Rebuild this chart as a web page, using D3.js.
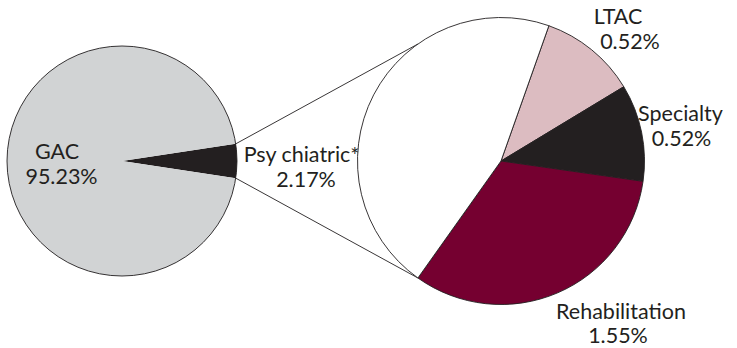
<!DOCTYPE html>
<html>
<head>
<meta charset="utf-8">
<script src="https://cdn.jsdelivr.net/npm/d3@7/dist/d3.min.js"></script>
<style>
  html, body { margin: 0; padding: 0; background: #ffffff; }
  svg { display: block; }
  text { font-family: Lato, "Open Sans", sans-serif; fill: #231f20; }
</style>
</head>
<body>
<svg id="chart" width="737" height="348"></svg>
<script>
// Share of hospital discharges by facility type (percent)
const mainCategories = ["GAC"];
const mainValues = [95.23];

// Breakdown of the remaining share, shown in the secondary pie
const subCategories = ["LTAC", "Specialty", "Rehabilitation", "Psy chiatric"];
const subValues = [0.52, 0.52, 1.55, 2.17];
const subMarks = ["", "", "", "*"];

const mainColors = ["#d1d3d4"];
const otherColor = "#231f20";
const subColors = ["#dcbcc1", "#231f20", "#750030", "#ffffff"];

const svg = d3.select("#chart");
const ink = "#231f20";
const fmt = v => d3.format(".2f")(v) + "%";

// Geometry of the two pies
const main = { cx: 122, cy: 161, r: 115 };
const sub = { cx: 501, cy: 161, r: 143.5 };

// ---- primary pie: GAC plus the combined "other" wedge pointing right ----
const otherTotal = d3.sum(subValues);
const mainData = [{ name: "__other", value: otherTotal, color: otherColor }]
  .concat(mainCategories.map((c, i) => ({ name: c, value: mainValues[i], color: mainColors[i] })));
const mainTotal = d3.sum(mainData, d => d.value);
const otherHalf = (otherTotal / mainTotal) * Math.PI;
const mainStart = Math.PI / 2 - otherHalf;

const mainPie = d3.pie().sort(null).value(d => d.value)
  .startAngle(mainStart).endAngle(mainStart + 2 * Math.PI);
const mainArcs = mainPie(mainData);
const mainArc = d3.arc().innerRadius(0).outerRadius(main.r);

const gMain = svg.append("g").attr("transform", `translate(${main.cx},${main.cy})`);
gMain.selectAll("path").data(mainArcs).join("path")
  .attr("d", mainArc)
  .attr("fill", d => d.data.color)
  .attr("stroke", "none");
gMain.append("circle").attr("r", main.r)
  .attr("fill", "none").attr("stroke", ink).attr("stroke-width", 0.9);

// ---- secondary pie ----
const subData = subCategories.map((c, i) => ({ name: c, value: subValues[i], color: subColors[i], mark: subMarks[i] }));
const subStart = 19.5 * Math.PI / 180;
const subPie = d3.pie().sort(null).value(d => d.value)
  .startAngle(subStart).endAngle(subStart + 2 * Math.PI);
const subArcs = subPie(subData);
const subArc = d3.arc().innerRadius(0).outerRadius(sub.r);

// ---- connector lines between the pies ----
const pt = (c, a) => [c.cx + c.r * Math.sin(a), c.cy - c.r * Math.cos(a)];
const otherArc = mainArcs[0];
const lastSub = subArcs[subArcs.length - 1];
const lowEnd = pt(sub, lastSub.startAngle);
const highEnd = pt(sub, Math.PI - lastSub.startAngle);
const connectors = [
  [pt(main, otherArc.startAngle), highEnd],
  [pt(main, otherArc.endAngle), lowEnd]
];
svg.append("g").selectAll("line").data(connectors).join("line")
  .attr("x1", d => d[0][0]).attr("y1", d => d[0][1])
  .attr("x2", d => d[1][0]).attr("y2", d => d[1][1])
  .attr("stroke", ink).attr("stroke-width", 0.9);

const gSub = svg.append("g").attr("transform", `translate(${sub.cx},${sub.cy})`);
gSub.selectAll("path").data(subArcs).join("path")
  .attr("d", subArc)
  .attr("fill", d => d.data.color)
  .attr("stroke", ink).attr("stroke-width", 0.9)
  .attr("stroke-linejoin", "round");

// ---- labels ----
const labelLayout = {
  "GAC":            { x: [57, 61.5], y: [159, 184] },
  "Psy chiatric":   { x: [301.5, 306], y: [162, 187] },
  "LTAC":           { x: [618, 630], y: [24, 49] },
  "Specialty":      { x: [680.5, 681.5], y: [121, 146] },
  "Rehabilitation": { x: [621, 618], y: [319, 343] }
};

const labelData = mainCategories.map((c, i) => ({ name: c, value: mainValues[i], mark: "" }))
  .concat(subData);

const gLab = svg.append("g").attr("font-size", 21.5);
labelData.forEach(d => {
  const L = labelLayout[d.name];
  const t1 = gLab.append("text").attr("x", L.x[0]).attr("y", L.y[0]).attr("text-anchor", "middle");
  t1.append("tspan").text(d.name);
  if (d.mark) {
    t1.append("tspan").attr("dy", 1).text(d.mark);
  }
  gLab.append("text").attr("x", L.x[1]).attr("y", L.y[1]).attr("text-anchor", "middle")
    .text(fmt(d.value));
});
</script>
</body>
</html>
